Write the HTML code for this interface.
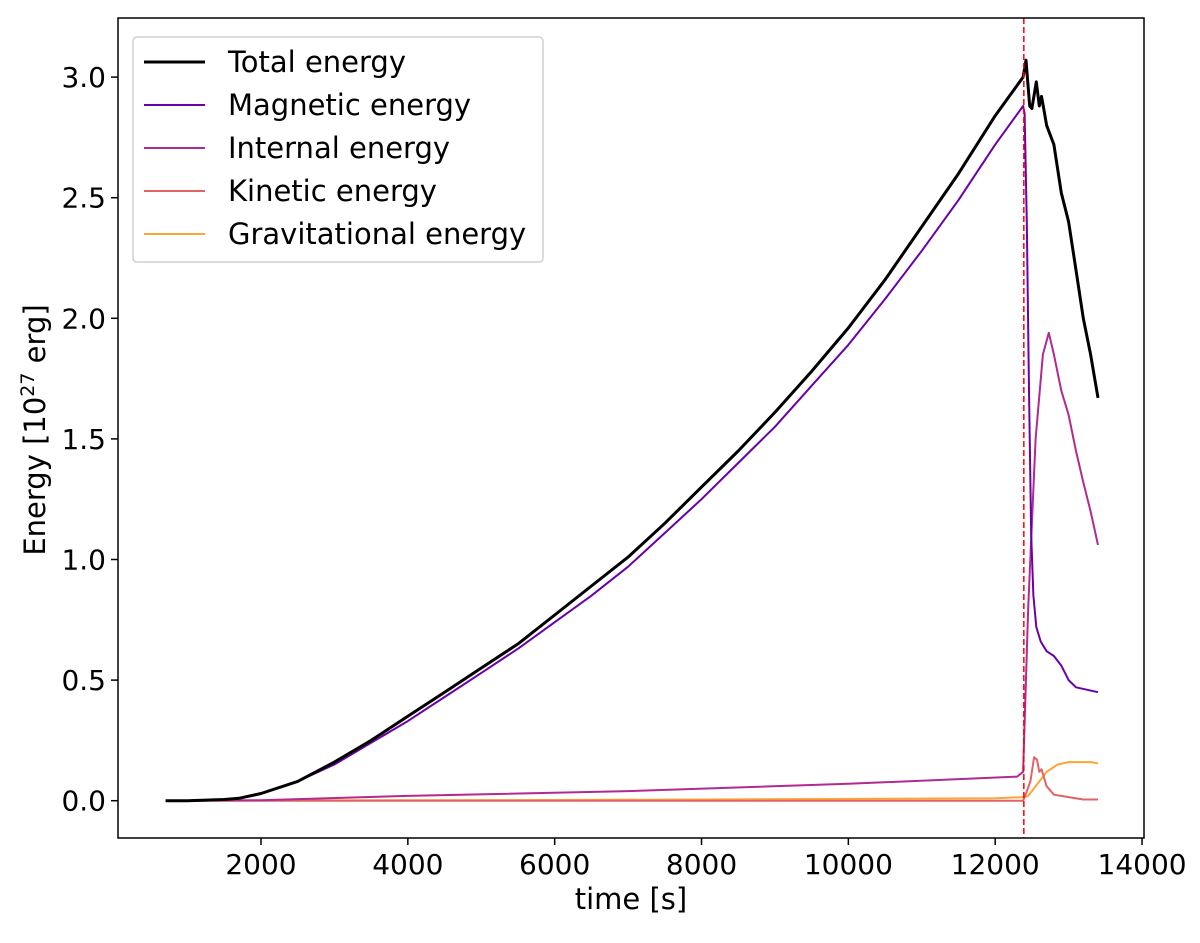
<!DOCTYPE html>
<html><head><meta charset="utf-8"><style>
body{margin:0;background:#fff}
svg text{font-family:"DejaVu Sans","Liberation Sans",sans-serif;fill:#000}
</style></head><body>
<svg id="chart" width="1200" height="938" xmlns="http://www.w3.org/2000/svg">
<g id="marks"></g>
<g id="axes"></g>
</svg>
<script>
const xTicks=[2000,4000,6000,8000,10000,12000,14000];
const yTicks=[0,0.5,1.0,1.5,2.0,2.5,3.0];
const yTickLabels=["0.0","0.5","1.0","1.5","2.0","2.5","3.0"];
const seriesNames=["Total energy","Magnetic energy","Internal energy","Kinetic energy","Gravitational energy"];
const totalT=[700,1000,1500,1700,2000,2500,3000,3500,4000,4500,5000,5500,6000,6500,7000,7500,8000,8500,9000,9500,10000,10500,11000,11500,12000,12380,12420,12470,12500,12560,12600,12630,12660,12700,12800,12900,13000,13100,13200,13300,13400];
const totalV=[0,0,0.005,0.01,0.03,0.08,0.16,0.25,0.35,0.45,0.55,0.65,0.77,0.89,1.01,1.15,1.30,1.45,1.61,1.78,1.96,2.16,2.38,2.60,2.84,3.0,3.07,2.88,2.87,2.98,2.88,2.92,2.87,2.80,2.72,2.52,2.40,2.20,2.00,1.85,1.67];
const magT=[700,1000,1500,1700,2000,2500,3000,3500,4000,4500,5000,5500,6000,6500,7000,7500,8000,8500,9000,9500,10000,10500,11000,11500,12000,12380,12400,12430,12460,12490,12520,12560,12620,12700,12800,12900,13000,13100,13400];
const magV=[0,0,0.005,0.01,0.03,0.08,0.15,0.24,0.33,0.43,0.53,0.63,0.74,0.85,0.97,1.11,1.25,1.40,1.55,1.72,1.89,2.08,2.28,2.49,2.72,2.88,2.85,2.4,1.7,1.1,0.85,0.72,0.66,0.62,0.6,0.56,0.5,0.47,0.45];
const intT=[700,2000,4000,7000,10000,12300,12380,12450,12550,12650,12730,12800,12900,13000,13100,13200,13300,13400];
const intV=[0,0.002,0.02,0.04,0.07,0.10,0.12,0.8,1.5,1.85,1.94,1.85,1.7,1.6,1.45,1.32,1.2,1.06];
const kinT=[700,12380,12420,12480,12530,12570,12600,12630,12700,12800,13000,13200,13400];
const kinV=[0,0,0.03,0.08,0.18,0.17,0.12,0.13,0.06,0.025,0.015,0.005,0.005];
const gravT=[700,6000,12000,12400,12450,12600,12700,12850,13000,13300,13400];
const gravV=[0,0.003,0.01,0.015,0.02,0.08,0.12,0.15,0.16,0.16,0.155];
const flareTime=12390;

const NS="http://www.w3.org/2000/svg";
const L=118,R=1144,T=18,B=838;
function xs(t){return 261+(t-2000)*0.07342;}
function ys(v){return 800.7-v*241.2;}
function mk(tag,attrs,parent){const e=document.createElementNS(NS,tag);for(const k in attrs)e.setAttribute(k,attrs[k]);parent.appendChild(e);return e;}
const marks=document.getElementById('marks'),axes=document.getElementById('axes');
const colors=["#000000","#6a00a8","#b12a90","#e16462","#fca636"];
const widths=[3,2,2,2,2];
const data=[[totalT,totalV],[magT,magV],[intT,intV],[kinT,kinV],[gravT,gravV]];
const order=[4,3,2,1,0];
order.forEach(i=>{
  const [ts,vs]=data[i];
  const d=ts.map((t,j)=>(j?'L':'M')+xs(t).toFixed(1)+','+ys(vs[j]).toFixed(1)).join('');
  const p=mk('path',{d:d,fill:'none',stroke:colors[i],'stroke-width':widths[i],'stroke-linejoin':'round'},marks);
  
  
});
const fl=mk('line',{x1:xs(flareTime),x2:xs(flareTime),y1:T,y2:B,stroke:'#ff0000','stroke-width':1.5,'stroke-dasharray':'6,3'},marks);


const frame=mk('rect',{x:L,y:T,width:R-L,height:B-T,fill:'none',stroke:'#000','stroke-width':1.5},axes);


xTicks.forEach(t=>{
  const x=xs(t);
  mk('line',{x1:x,x2:x,y1:B,y2:B+7,stroke:'#000','stroke-width':1.5},axes);
  const tx=mk('text',{x:x,y:B+36,'text-anchor':'middle','font-size':28},axes);
  tx.textContent=t;
  
  
});
yTicks.forEach((v,i)=>{
  const y=ys(v);
  mk('line',{x1:L-7,x2:L,y1:y,y2:y,stroke:'#000','stroke-width':1.5},axes);
  const tx=mk('text',{x:L-12,y:y+10,'text-anchor':'end','font-size':28},axes);
  tx.textContent=yTickLabels[i];
  
  
});
const xl=mk('text',{x:631,y:909,'text-anchor':'middle','font-size':29},axes);
xl.textContent='time [s]';


const yl=mk('text',{x:0,y:0,'text-anchor':'middle','font-size':29,transform:'translate(45,430) rotate(-90)'},axes);
yl.innerHTML='Energy [10<tspan baseline-shift="super" font-size="19">27</tspan> erg]';


const lg=mk('g',{},axes);


mk('rect',{x:133,y:37,width:410,height:225,rx:4,fill:'#fff','fill-opacity':0.8,stroke:'#d0d0d0','stroke-width':1.5},lg);
seriesNames.forEach((n,i)=>{
  const y=62+i*43;
  const g=mk('g',{},lg);
  
  
  mk('line',{x1:144,x2:205,y1:y,y2:y,stroke:colors[i],'stroke-width':widths[i]},g);
  const tx=mk('text',{x:228,y:y+10,'font-size':29},g);
  tx.textContent=n;
});
</script>
</body></html>
